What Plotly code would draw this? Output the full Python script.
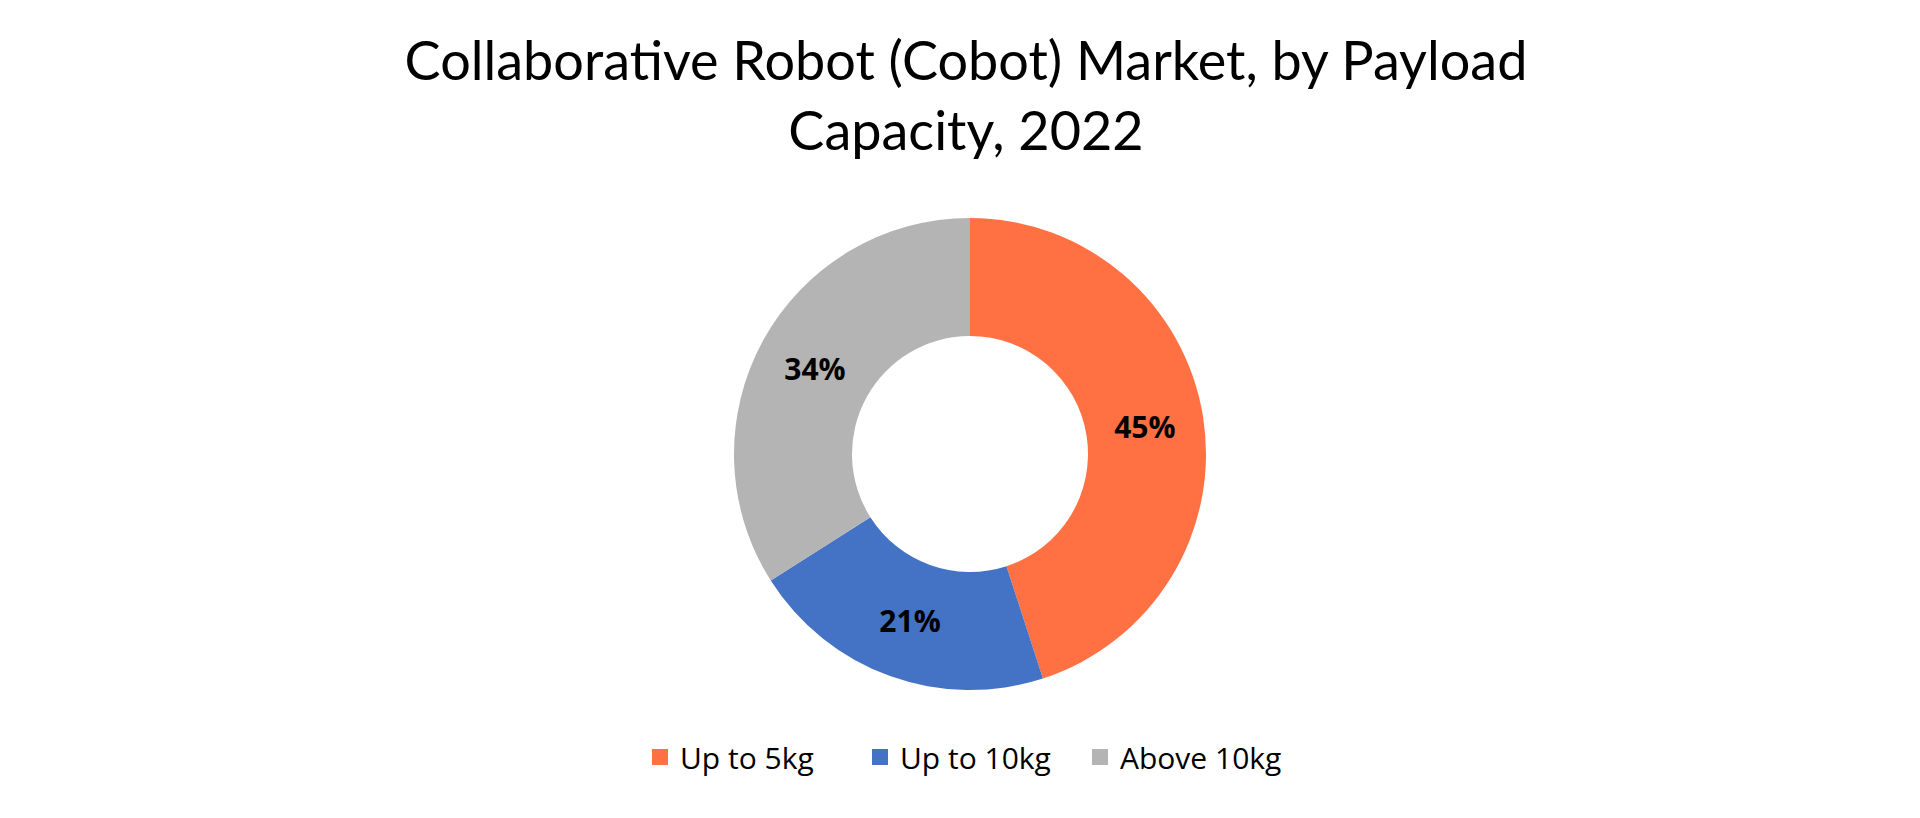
import plotly.graph_objects as go

categories = ["Up to 5kg", "Up to 10kg", "Above 10kg"]
shares = [45, 21, 34]
colors = ["#FF7043", "#4472C4", "#B4B4B4"]
title_text = "Collaborative Robot (Cobot) Market, by Payload<br>Capacity, 2022"

W, H = 1920, 818
cx, cy, R = 970, 454, 236
top = cy - R
bottom = H - (cy + R)
left = 100
right = left - 2 * (cx - W / 2)
plot_w = W - left - right

fig = go.Figure()
fig.add_trace(
    go.Pie(
        labels=categories,
        values=shares,
        marker=dict(colors=colors, line=dict(width=0)),
        hole=0.5,
        sort=False,
        direction="clockwise",
        rotation=0,
        texttemplate="%{value}%",
        textposition="inside",
        insidetextorientation="horizontal",
        textfont=dict(family="Open Sans", size=30, color="black", weight="bold"),
        hoverinfo="label+percent",
        showlegend=False,
    )
)
# legend entries with larger square swatches
for name, col in zip(categories, colors):
    fig.add_trace(
        go.Scatter(
            x=[None], y=[None], mode="markers", name=name,
            marker=dict(symbol="square", size=20, color=col, line=dict(width=0)),
            showlegend=True, hoverinfo="skip",
        )
    )

fig.update_xaxes(visible=False)
fig.update_yaxes(visible=False)

fig.update_layout(
    width=W,
    height=H,
    paper_bgcolor="white",
    plot_bgcolor="white",
    margin=dict(l=left, r=right, t=top, b=bottom, pad=0),
    title=dict(
        text=title_text,
        x=0.5 + (966 - W / 2) / W,
        xanchor="center",
        y=1 - 80 / H,
        yanchor="middle",
        font=dict(family="Lato", size=54, color="black"),
    ),
    legend=dict(
        orientation="h",
        x=0.5,
        xanchor="center",
        y=(690 - 757) / (2 * R),
        yanchor="middle",
        font=dict(family="Open Sans", size=30, color="black"),
        itemsizing="trace",
        entrywidth=175,
    ),
)

fig.write_html("out.html")
